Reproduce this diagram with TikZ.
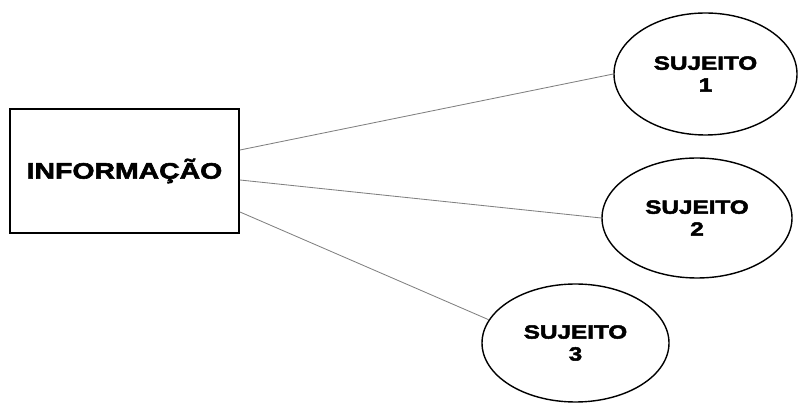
\documentclass[tikz,border=0pt]{standalone}
\usepackage{fontspec}
\usepackage{tikz}
\usetikzlibrary{shapes.geometric}
\newfontfamily\boxfont{Liberation Sans}[FakeStretch=1.27,FakeBold=2.5]

\begin{document}
\begin{tikzpicture}[
    infobox/.style={draw, line width=1.4pt, minimum width=5.725cm, minimum height=3.1cm,
      inner sep=0pt, font=\boxfont\bfseries\fontsize{15.9}{18}\selectfont},
    subject/.style={draw, ellipse, line width=1pt, inner sep=0pt, align=center,
      font=\boxfont\bfseries\fontsize{13.6}{15.6}\selectfont},
    link/.style={gray, line width=0.6pt}]
    \useasboundingbox (0cm, 0cm) rectangle (19.95cm, 10.075cm);

      % Information
      \node[infobox] (info) at (3.1125cm, 5.8cm) {INFORMAÇÃO};

      % Subjects
      \node[subject, minimum width=4.575cm, minimum height=3.05cm] (subj1) at (17.6375cm, 8.225cm) {SUJEITO\\1};
      \node[subject, minimum width=4.75cm, minimum height=3.0cm] (subj2) at (17.425cm, 4.625cm) {SUJEITO\\2};
      \node[subject, minimum width=4.675cm, minimum height=2.95cm] (subj3) at (14.3875cm, 1.5cm) {SUJEITO\\3};

      % Links
      \coordinate (out1) at ([yshift=0.525cm]info.east);
      \coordinate (out2) at ([yshift=-0.225cm]info.east);
      \coordinate (out3) at ([yshift=-1.025cm]info.east);
      \draw[link] (out1) -- (subj1.west);
      \draw[link] (out2) -- (subj2.west);
      \draw[link] (out3) -- (subj3.165);
  \end{tikzpicture}
\end{document}
